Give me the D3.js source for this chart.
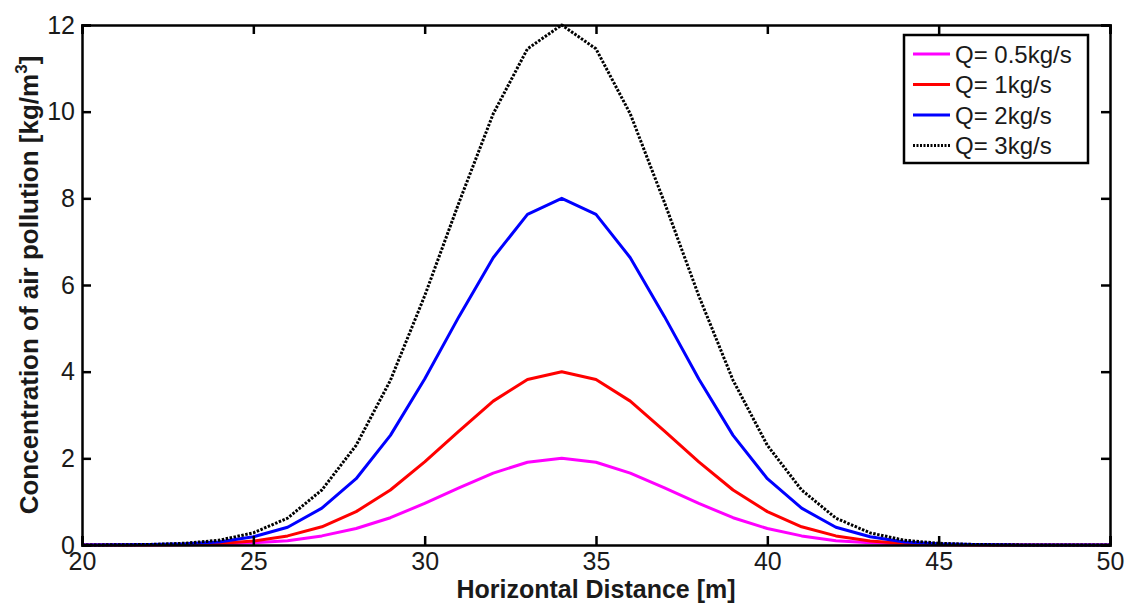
<!DOCTYPE html>
<html lang="en">
<head>
    <meta charset="UTF-8">
    <title>Concentration of air pollution</title>
    <script src="https://d3js.org/d3.v7.min.js"></script>
    <style>
        body { margin: 0; background: #fff; }
        text { font-family: "Liberation Sans", Arial, sans-serif; fill: #1a1a1a; }
        .axis-title { font-size: 25px; font-weight: bold; }
        .legend-label { font-size: 24px; }
        .line { fill: none; stroke-width: 3; stroke-linejoin: round; }
    </style>
</head>
<body>
    <svg width="1126" height="604"></svg>
    <script>
        // horizontal distance [m]
        const distance = [20, 21, 22, 23, 24, 25, 26, 27, 28, 29, 30, 31, 32, 33, 34, 35,
                          36, 37, 38, 39, 40, 41, 42, 43, 44, 45, 46, 47, 48, 49, 50];

        // concentration values, one list per Q
        const q05 = [0, 0.001, 0.002, 0.006, 0.02, 0.05, 0.1, 0.21, 0.38, 0.63, 0.96, 1.32, 1.66, 1.91, 2,
                     1.91, 1.66, 1.32, 0.96, 0.63, 0.38, 0.21, 0.1, 0.05, 0.02, 0.006, 0.002, 0.001, 0, 0, 0];
        const q1 = [0, 0.001, 0.004, 0.013, 0.035, 0.09, 0.21, 0.42, 0.77, 1.27, 1.92, 2.63, 3.32, 3.82, 4,
                    3.82, 3.32, 2.63, 1.92, 1.27, 0.77, 0.42, 0.21, 0.09, 0.035, 0.013, 0.004, 0.001, 0, 0, 0];
        const q2 = [0.001, 0.003, 0.009, 0.03, 0.07, 0.19, 0.41, 0.85, 1.53, 2.53, 3.83, 5.27, 6.63, 7.63, 8,
                    7.63, 6.63, 5.27, 3.83, 2.53, 1.53, 0.85, 0.41, 0.19, 0.07, 0.03, 0.009, 0.003, 0.001, 0, 0];
        const q3 = [0.001, 0.004, 0.013, 0.04, 0.11, 0.28, 0.62, 1.27, 2.3, 3.8, 5.75, 7.9, 9.95, 11.45, 12,
                    11.45, 9.95, 7.9, 5.75, 3.8, 2.3, 1.27, 0.62, 0.28, 0.11, 0.04, 0.013, 0.004, 0.001, 0, 0];

        const seriesNames = ["Q= 0.5kg/s", "Q= 1kg/s", "Q= 2kg/s", "Q= 3kg/s"];
        const seriesColors = ["#ff00ff", "#ff0000", "#0000ff", "#000000"];
        const xTicks = [20, 25, 30, 35, 40, 45, 50];
        const yTicks = [0, 2, 4, 6, 8, 10, 12];

        const series = [q05, q1, q2, q3].map((vals, i) => ({
            name: seriesNames[i],
            color: seriesColors[i],
            dotted: i === 3,
            points: vals.map((v, j) => ({x: distance[j], y: v}))
        }));

        const margin = {top: 25, right: 16, bottom: 59, left: 82};
        const width = 1126, height = 604;
        const svg = d3.select("svg");

        const x = d3.scaleLinear().domain([20, 50]).range([margin.left, width - margin.right]);
        const y = d3.scaleLinear().domain([0, 12]).range([height - margin.bottom, margin.top]);

        const line = d3.line().x(d => x(d.x)).y(d => y(d.y));

        svg.selectAll("path.line")
            .data(series)
            .enter().append("path")
            .attr("class", "line")
            .attr("d", d => line(d.points))
            .attr("stroke", d => d.color)
            .attr("stroke-dasharray", d => d.dotted ? "2.5,1.5" : null);

        // frame with inward ticks on all four sides
        const tickLen = 9;
        const frame = svg.append("g");
        frame.append("g")
            .attr("transform", `translate(0,${y(0)})`)
            .call(d3.axisBottom(x).tickValues(xTicks).tickSize(-tickLen).tickPadding(7));
        frame.append("g")
            .attr("transform", `translate(0,${y(12)})`)
            .call(d3.axisTop(x).tickValues(xTicks).tickSize(-tickLen).tickFormat(""));
        frame.append("g")
            .attr("transform", `translate(${x(20)},0)`)
            .call(d3.axisLeft(y).tickValues(yTicks).tickSize(-tickLen).tickPadding(7));
        frame.append("g")
            .attr("transform", `translate(${x(50)},0)`)
            .call(d3.axisRight(y).tickValues(yTicks).tickSize(-tickLen).tickFormat(""));

        frame.selectAll(".domain").attr("stroke", "#000").attr("stroke-width", 2.5);
        frame.selectAll(".tick line").attr("stroke", "#000").attr("stroke-width", 2.5);
        frame.selectAll(".tick text")
            .attr("fill", "#1a1a1a")
            .style("font-family", "'Liberation Sans', Arial, sans-serif")
            .style("font-size", "25px");

        // axis titles
        svg.append("text")
            .attr("class", "axis-title")
            .attr("x", (x(20) + x(50)) / 2)
            .attr("y", 598)
            .attr("text-anchor", "middle")
            .text("Horizontal Distance [m]");

        const yTitle = svg.append("text")
            .attr("class", "axis-title")
            .style("font-size", "26px")
            .attr("transform", `translate(38,${(y(0) + y(12)) / 2}) rotate(-90)`)
            .attr("text-anchor", "middle");
        yTitle.append("tspan").text("Concentration of air pollution [kg/m");
        yTitle.append("tspan").attr("dy", -11).style("font-size", "17px").text("3");
        yTitle.append("tspan").attr("dy", 11).text("]");

        // legend
        const legend = svg.append("g").attr("transform", "translate(904,35)");
        legend.append("rect")
            .attr("width", 184).attr("height", 128)
            .attr("fill", "#fff").attr("stroke", "#000").attr("stroke-width", 2.5);

        const item = legend.selectAll("g.item")
            .data(series)
            .enter().append("g")
            .attr("class", "item")
            .attr("transform", (d, i) => `translate(0,${19 + i * 30.5})`);
        item.append("line")
            .attr("x1", 9).attr("x2", 46)
            .attr("stroke", d => d.color)
            .attr("stroke-width", 3)
            .attr("stroke-dasharray", d => d.dotted ? "2,1.5" : null);
        item.append("text")
            .attr("class", "legend-label")
            .attr("x", 51)
            .attr("y", 8.5)
            .text(d => d.name);
    </script>
</body>
</html>
